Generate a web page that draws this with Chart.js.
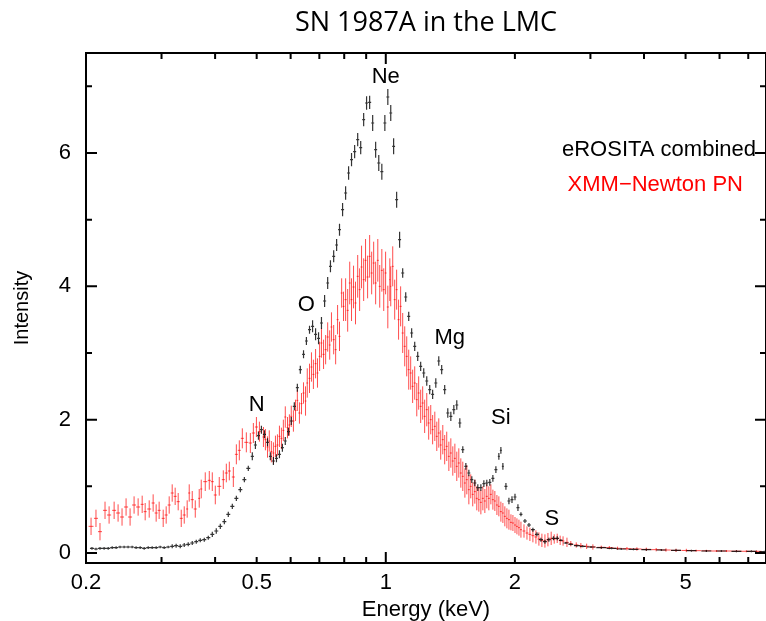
<!DOCTYPE html>
<html>
<head>
<meta charset="utf-8">
<script src="https://cdn.jsdelivr.net/npm/chart.js@4.4.1/dist/chart.umd.min.js"></script>
<style>
  html, body { margin: 0; padding: 0; background: #fff; }
  #spec { display: block; }
</style>
</head>
<body>
<canvas id="spec" width="766" height="621"></canvas>
<script>
// eROSITA combined spectrum (energy keV, intensity, 1-sigma error)
const eroEnergy = [
  0.2065,0.2110,0.2156,0.2204,0.2253,0.2302,0.2351,0.2401,0.2454,0.2507,
  0.2562,0.2617,0.2675,0.2733,0.2793,0.2853,0.2915,0.2978,0.3043,0.3109,
  0.3177,0.3245,0.3317,0.3389,0.3462,0.3538,0.3615,0.3693,0.3774,0.3856,
  0.3940,0.4025,0.4113,0.4203,0.4293,0.4387,0.4483,0.4580,0.468,0.478,
  0.4884,0.4966,0.5048,0.5129,0.5213,0.5299,0.538,0.547,0.556,0.565,
  0.574,0.583,0.593,0.602,0.612,0.622,0.632,0.643,0.653,0.664,
  0.675,0.686,0.697,0.708,0.720,0.732,0.743,0.756,0.768,0.780,
  0.793,0.806,0.819,0.832,0.846,0.860,0.874,0.888,0.902,0.917,
  0.932,0.947,0.963,0.979,0.995,1.011,1.027,1.043,1.060,1.077,
  1.095,1.113,1.131,1.149,1.168,1.187,1.206,1.226,1.246,1.266,
  1.286,1.308,1.329,1.350,1.372,1.395,1.418,1.441,1.464,1.488,
  1.512,1.537,1.562,1.587,1.613,1.639,1.666,1.693,1.720,1.748,
  1.777,1.806,1.835,1.855,1.875,1.906,1.937,1.969,2.001,2.033,
  2.066,2.111,2.157,2.203,2.251,2.30,2.35,2.40,2.46,2.51,
  2.56,2.63,2.70,2.79,2.88,3.01,3.18,3.36,3.54,3.78,
  4.05,4.39,4.75,5.16,5.59,6.06,6.57,7.12,7.63
];
const eroIntensity = [
  0.07,0.06,0.07,0.07,0.07,0.08,0.08,0.09,0.09,0.09,
  0.09,0.08,0.08,0.07,0.08,0.08,0.08,0.09,0.08,0.09,
  0.10,0.11,0.10,0.12,0.13,0.15,0.17,0.19,0.20,0.23,
  0.28,0.33,0.40,0.47,0.58,0.70,0.82,0.95,1.10,1.27,
  1.45,1.62,1.76,1.85,1.78,1.66,1.45,1.38,1.42,1.48,
  1.58,1.68,1.82,1.98,2.20,2.48,2.75,2.98,3.18,3.35,
  3.40,3.28,3.22,3.45,3.78,4.05,4.30,4.45,4.62,4.85,
  5.15,5.40,5.70,5.90,6.02,6.20,6.08,6.50,6.75,6.76,
  6.45,6.05,5.85,5.72,6.45,6.84,6.60,6.10,5.30,4.70,
  4.20,3.84,3.55,3.30,3.10,2.95,2.80,2.70,2.58,2.45,
  2.38,2.55,2.88,2.75,2.45,2.10,2.05,2.15,2.22,1.95,
  1.55,1.30,1.20,1.10,1.05,0.98,0.98,1.04,1.05,1.06,
  1.12,1.25,1.45,1.54,1.30,1.00,0.78,0.80,0.84,0.68,
  0.58,0.48,0.42,0.35,0.28,0.20,0.17,0.20,0.22,0.22,
  0.19,0.15,0.13,0.11,0.10,0.09,0.08,0.07,0.06,0.055,
  0.05,0.045,0.04,0.035,0.03,0.03,0.025,0.025,0.02
];
const eroError = [
  0.02,0.02,0.02,0.02,0.02,0.02,0.02,0.02,0.02,0.02,
  0.02,0.02,0.02,0.02,0.02,0.02,0.02,0.02,0.02,0.02,
  0.03,0.03,0.03,0.03,0.03,0.03,0.03,0.03,0.03,0.03,
  0.04,0.04,0.04,0.04,0.04,0.04,0.04,0.04,0.04,0.04,
  0.06,0.06,0.06,0.06,0.06,0.06,0.06,0.06,0.06,0.06,
  0.06,0.06,0.06,0.06,0.06,0.06,0.06,0.06,0.06,0.06,
  0.09,0.09,0.09,0.09,0.09,0.09,0.09,0.09,0.09,0.09,
  0.10,0.10,0.10,0.10,0.10,0.10,0.10,0.10,0.10,0.10,
  0.12,0.12,0.12,0.12,0.12,0.12,0.12,0.12,0.12,0.12,
  0.07,0.07,0.07,0.07,0.07,0.07,0.07,0.07,0.07,0.07,
  0.07,0.07,0.07,0.07,0.07,0.07,0.07,0.07,0.07,0.07,
  0.05,0.05,0.05,0.05,0.05,0.05,0.05,0.05,0.05,0.05,
  0.05,0.05,0.05,0.05,0.05,0.05,0.05,0.05,0.05,0.05,
  0.03,0.03,0.03,0.03,0.03,0.03,0.03,0.03,0.03,0.03,
  0.015,0.015,0.015,0.015,0.015,0.015,0.015,0.015,0.015,0.015,
  0.015,0.015,0.015,0.015,0.015,0.015,0.015,0.015,0.015
];

// XMM-Newton PN spectrum
const xmmEnergy = [
  0.2055,0.2110,0.2156,0.2215,0.2264,0.2326,0.2376,0.2427,0.2480,0.2534,
  0.2589,0.2646,0.2704,0.2748,0.2808,0.2868,0.2915,0.2962,0.3027,0.3076,
  0.3126,0.3177,0.3228,0.3281,0.3335,0.3389,0.3443,0.3481,0.3538,0.3596,
  0.3673,0.3713,0.3794,0.3877,0.3940,0.4004,0.4090,0.4180,0.4248,0.4317,
  0.4411,0.4483,0.4555,0.4629,0.4730,0.4833,0.4912,0.4993,0.5074,0.5185,
  0.524,0.530,0.535,0.541,0.547,0.553,0.559,0.565,0.571,0.577,
  0.583,0.590,0.596,0.602,0.609,0.616,0.622,0.629,0.636,0.643,
  0.650,0.656,0.664,0.671,0.678,0.686,0.693,0.701,0.708,0.716,
  0.724,0.732,0.740,0.747,0.756,0.764,0.772,0.780,0.789,0.797,
  0.806,0.815,0.824,0.832,0.841,0.850,0.860,0.869,0.878,0.888,
  0.897,0.907,0.917,0.927,0.937,0.947,0.958,0.968,0.979,0.989,
  0.999,1.011,1.022,
  1.027,1.038,1.049,1.060,1.071,1.083,1.095,1.107,1.119,1.131,
  1.143,1.155,1.168,1.181,1.193,1.206,1.219,1.232,1.246,1.259,
  1.273,1.286,1.301,1.315,1.329,1.343,1.358,1.372,1.387,1.403,
  1.418,1.433,1.449,1.464,1.480,1.496,1.512,1.529,1.545,1.562,
  1.578,1.595,1.613,1.630,1.648,1.666,1.684,1.702,1.720,1.739,
  1.758,1.777,1.796,1.816,1.835,1.855,1.875,1.895,1.916,1.937,
  1.958,1.979,2.001,2.022,2.044,2.066,
  2.10,2.134,2.168,2.203,2.239,2.275,2.312,2.35,2.388,2.43,
  2.47,2.51,2.55,2.59,2.645,2.70,2.78,2.85,2.94,3.04,
  3.18,3.32,3.47,3.65,3.85,4.05,4.27,4.50,4.75,5.02,
  5.29,5.59,5.90,6.23,6.57,6.93,7.32
];
const xmmIntensity = [
  0.40,0.52,0.32,0.64,0.57,0.64,0.60,0.54,0.69,0.54,
  0.72,0.69,0.73,0.62,0.66,0.75,0.60,0.64,0.52,0.57,
  0.72,0.90,0.85,0.77,0.52,0.57,0.66,0.90,0.80,0.66,
  0.82,0.96,1.07,1.09,1.07,0.87,1.00,1.10,1.20,1.23,
  1.14,1.48,1.54,1.72,1.66,1.65,1.80,1.89,1.82,1.74,
  1.70,1.59,1.68,1.52,1.50,1.60,1.62,1.75,1.72,1.84,
  2.04,1.88,1.92,2.05,1.98,2.14,2.29,2.10,2.24,2.40,
  2.28,2.55,2.62,2.79,2.68,2.84,2.70,2.95,3.15,2.98,
  3.05,3.24,3.12,3.39,3.20,3.05,3.50,3.25,3.90,3.70,
  3.80,3.64,4.05,3.80,3.99,3.75,4.15,3.95,4.29,4.10,
  4.39,4.14,4.45,4.20,4.35,4.05,4.39,4.00,4.24,3.95,
  4.20,3.69,4.10,
  4.00,4.30,3.80,3.95,3.50,3.70,3.30,3.10,2.95,2.75,
  2.70,2.50,2.55,2.30,2.40,2.20,2.25,2.05,2.15,1.95,
  2.00,1.85,1.90,1.75,1.80,1.62,1.70,1.55,1.60,1.45,
  1.50,1.38,1.42,1.30,1.35,1.20,1.15,1.05,1.10,0.95,
  1.00,0.88,0.92,0.82,0.80,0.76,0.82,0.78,0.85,0.82,
  0.88,0.80,0.78,0.72,0.70,0.62,0.60,0.55,0.52,0.50,
  0.46,0.45,0.42,0.40,0.38,0.35,
  0.33,0.30,0.28,0.26,0.24,0.21,0.19,0.18,0.20,0.22,
  0.21,0.22,0.19,0.18,0.16,0.14,0.12,0.11,0.10,0.09,
  0.085,0.08,0.07,0.065,0.06,0.055,0.05,0.045,0.04,0.038,
  0.035,0.033,0.03,0.03,0.028,0.026,0.025
];
const xmmError = [
  0.13,0.13,0.13,0.13,0.13,0.13,0.13,0.13,0.13,0.13,
  0.13,0.13,0.13,0.13,0.13,0.13,0.13,0.13,0.13,0.13,
  0.13,0.13,0.13,0.13,0.13,0.13,0.13,0.13,0.13,0.13,
  0.14,0.14,0.14,0.14,0.14,0.14,0.14,0.14,0.14,0.14,
  0.15,0.15,0.15,0.15,0.15,0.15,0.15,0.15,0.15,0.15,
  0.16,0.16,0.16,0.16,0.16,0.16,0.16,0.16,0.16,0.16,
  0.16,0.16,0.16,0.16,0.16,0.16,0.16,0.16,0.16,0.16,
  0.22,0.22,0.22,0.22,0.22,0.22,0.22,0.22,0.22,0.22,
  0.22,0.22,0.22,0.22,0.22,0.22,0.22,0.22,0.22,0.22,
  0.32,0.32,0.32,0.32,0.32,0.32,0.32,0.32,0.32,0.32,
  0.32,0.32,0.32,0.32,0.32,0.32,0.32,0.32,0.32,0.32,
  0.32,0.32,0.32,
  0.30,0.30,0.30,0.30,0.30,0.30,0.30,0.30,0.30,0.30,
  0.25,0.25,0.25,0.25,0.25,0.25,0.25,0.25,0.25,0.25,
  0.22,0.22,0.22,0.22,0.22,0.22,0.22,0.22,0.22,0.22,
  0.22,0.22,0.22,0.22,0.22,0.22,0.22,0.22,0.22,0.22,
  0.18,0.18,0.18,0.18,0.18,0.18,0.18,0.18,0.18,0.18,
  0.15,0.15,0.15,0.15,0.15,0.15,0.15,0.15,0.15,0.15,
  0.12,0.12,0.12,0.12,0.12,0.12,
  0.10,0.10,0.10,0.10,0.10,0.10,0.10,0.10,0.10,0.10,
  0.07,0.07,0.07,0.07,0.07,0.04,0.04,0.04,0.04,0.04,
  0.025,0.025,0.025,0.025,0.025,0.025,0.025,0.025,0.025,0.025,
  0.015,0.015,0.015,0.015,0.015,0.015,0.015
];

// axis ticks
const xTickValues = [0.2, 0.3, 0.4, 0.5, 0.6, 0.7, 0.8, 0.9, 1, 2, 3, 4, 5, 6, 7];
const xTickText   = ['0.2', '', '', '0.5', '', '', '', '', '1', '2', '', '', '5', '', ''];
const xMajor = [1];
const yTickValues = [0, 1, 2, 3, 4, 5, 6, 7];
const yTickText   = ['0', '', '2', '', '4', '', '6', ''];
const yMajor = [0, 2, 4, 6];

// line identifications
const lineNames  = ['N', 'O', 'Ne', 'Mg', 'Si', 'S'];
const lineEnergy = [0.50, 0.653, 1.0, 1.41, 1.855, 2.44];
const lineHeight = [2.22, 3.72, 7.14, 3.22, 2.02, 0.51];

const SANS = '"Liberation Sans", Arial, Helvetica, sans-serif';

function toPoints(es, vs) {
  return es.map((e, i) => ({ x: e, y: vs[i] }));
}

// draw crosses (energy bin + 1 sigma) for each spectrum
const errorBars = {
  id: 'errorBars',
  afterDatasetsDraw(chart) {
    const ctx = chart.ctx;
    const ys = chart.scales.y;
    const area = chart.chartArea;
    ctx.save();
    ctx.beginPath();
    ctx.rect(area.left, area.top, area.right - area.left, area.bottom - area.top);
    ctx.clip();
    chart.data.datasets.forEach((ds, di) => {
      const meta = chart.getDatasetMeta(di);
      const pts = meta.data;
      ctx.strokeStyle = ds.barColor;
      ctx.lineWidth = ds.barWidth;
      ctx.beginPath();
      pts.forEach((p, j) => {
        const v = ds.data[j].y, e = ds.errors[j];
        const y1 = ys.getPixelForValue(v - e);
        const y2 = ys.getPixelForValue(v + e);
        const left = j > 0 ? p.x - pts[j - 1].x : 6;
        const right = j < pts.length - 1 ? pts[j + 1].x - p.x : left;
        const hw = Math.min(Math.min(left, right) / 2, 5);
        ctx.moveTo(p.x, y1);
        ctx.lineTo(p.x, y2);
        ctx.moveTo(p.x - hw, p.y);
        ctx.lineTo(p.x + hw, p.y);
      });
      ctx.stroke();
    });
    ctx.restore();
  }
};

// box, inward ticks, title, line labels, legend
const frame = {
  id: 'frame',
  afterDraw(chart) {
    const ctx = chart.ctx;
    const xs = chart.scales.x, ys = chart.scales.y;
    const a = chart.chartArea;
    ctx.save();
    ctx.strokeStyle = '#000';
    ctx.lineWidth = 2;
    ctx.beginPath();
    ctx.moveTo(a.left, a.top); ctx.lineTo(a.right, a.top);
    ctx.moveTo(a.right, a.top); ctx.lineTo(a.right, a.bottom);
    xTickValues.forEach(v => {
      const x = xs.getPixelForValue(v);
      const len = xMajor.includes(v) ? 11 : 6;
      ctx.moveTo(x, a.bottom); ctx.lineTo(x, a.bottom - len);
      ctx.moveTo(x, a.top); ctx.lineTo(x, a.top + len);
    });
    yTickValues.forEach(v => {
      const y = ys.getPixelForValue(v);
      const len = yMajor.includes(v) ? 11 : 6;
      ctx.moveTo(a.left, y); ctx.lineTo(a.left + len, y);
      ctx.moveTo(a.right, y); ctx.lineTo(a.right - len, y);
    });
    ctx.stroke();

    // title
    ctx.fillStyle = '#000';
    ctx.textAlign = 'center';
    ctx.textBaseline = 'middle';
    ctx.font = '27px "Open Sans", sans-serif';
    ctx.fillText('SN 1987A in the LMC', (a.left + a.right) / 2, 23);

    // element labels
    ctx.font = '22px ' + SANS;
    lineNames.forEach((n, i) => {
      ctx.fillText(n, xs.getPixelForValue(lineEnergy[i]), ys.getPixelForValue(lineHeight[i]));
    });

    // legend
    ctx.textAlign = 'right';
    const names = chart.data.datasets.map(d => d.label);
    ctx.fillStyle = '#000';
    ctx.fillText(names[1], a.right - 10, ys.getPixelForValue(6.04));
    ctx.fillStyle = '#ff0000';
    ctx.fillText(names[0], a.right - 23, ys.getPixelForValue(5.52));
    ctx.restore();
  }
};

const ctx = document.getElementById('spec').getContext('2d');
new Chart(ctx, {
  type: 'scatter',
  data: {
    datasets: [
      {
        label: 'XMM\u2212Newton PN',
        data: toPoints(xmmEnergy, xmmIntensity),
        errors: xmmError,
        barColor: 'rgba(255,0,0,0.7)',
        barWidth: 1,
        pointRadius: 0,
        showLine: false
      },
      {
        label: 'eROSITA combined',
        data: toPoints(eroEnergy, eroIntensity),
        errors: eroError,
        barColor: 'rgba(0,0,0,0.8)',
        barWidth: 1.2,
        pointRadius: 0,
        showLine: false
      }
    ]
  },
  options: {
    responsive: false,
    animation: false,
    devicePixelRatio: 1,
    layout: { padding: { top: 53, right: 0, left: 0, bottom: 0 } },
    plugins: { legend: { display: false }, tooltip: { enabled: false } },
    scales: {
      x: {
        type: 'logarithmic',
        min: 0.2,
        max: 7.7,
        afterBuildTicks: s => { s.ticks = xTickValues.map(v => ({ value: v })); },
        afterFit: s => { s.height = 58; },
        grid: { display: false, drawTicks: false },
        border: { display: true, color: '#000', width: 2 },
        ticks: {
          autoSkip: false, maxRotation: 0, padding: 7, color: '#000',
          font: { family: SANS, size: 22 },
          callback: (v, i) => xTickText[i]
        },
        title: {
          display: true, text: 'Energy (keV)', color: '#000',
          font: { family: SANS, size: 22, lineHeight: 1 }, padding: { top: 0, bottom: 0 }
        }
      },
      y: {
        min: -0.15,
        max: 7.5,
        afterBuildTicks: s => { s.ticks = yTickValues.map(v => ({ value: v })); },
        afterFit: s => { s.width = 86; },
        grid: { display: false, drawTicks: false },
        border: { display: true, color: '#000', width: 2 },
        ticks: {
          padding: 15, color: '#000',
          font: { family: SANS, size: 22 },
          callback: (v, i) => yTickText[i]
        },
        title: {
          display: true, text: 'Intensity', color: '#000',
          font: { family: SANS, size: 20 }, padding: { top: 10, bottom: 0 }
        }
      }
    }
  },
  plugins: [errorBars, frame]
});
</script>
</body>
</html>
